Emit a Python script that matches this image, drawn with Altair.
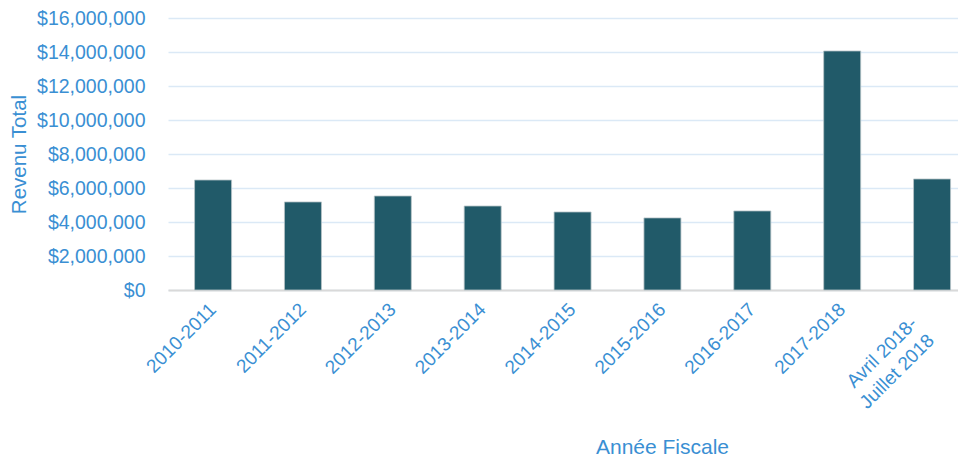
import altair as alt
import pandas as pd

years = ["2010-2011", "2011-2012", "2012-2013", "2013-2014", "2014-2015",
         "2015-2016", "2016-2017", "2017-2018", "Avril 2018-Juillet 2018"]
revenue = [6470000, 5180000, 5530000, 4940000, 4590000,
           4240000, 4650000, 14060000, 6530000]

df = pd.DataFrame({"annee": years, "revenu": revenue})

BLUE = "#3a8fd3"
FONT = "Liberation Sans"
LAST = "datum.value == 'Avril 2018-Juillet 2018'"

chart = alt.Chart(df).mark_bar(
    color="#215a69", stroke="#b8c4c8", strokeWidth=0.8, size=37
).encode(
    x=alt.X("annee:N", sort=years,
            scale=alt.Scale(paddingInner=0.59, paddingOuter=0.19, align=0.78),
            axis=alt.Axis(title="Année Fiscale", labelAngle=-45,
                          labelAlign="right", labelBaseline="middle",
                          labelExpr="datum.label == 'Avril 2018-Juillet 2018' ? ['Avril 2018-', 'Juillet 2018'] : datum.label",
                          labelFontSize=19, labelColor=BLUE, labelFont=FONT,
                          labelPadding={"condition": {"test": LAST, "value": 30}, "value": 16},
                          labelOffset={"condition": {"test": LAST, "value": -18}, "value": 0},
                          labelLineHeight=24,
                          ticks=False, domainColor="#d9d9d9", domainWidth=2,
                          titleFontSize=21, titleFontWeight="normal", titleColor=BLUE,
                          titleFont=FONT, titleX=494, titleY=163,
                          titleAlign="center", titleBaseline="alphabetic")),
    y=alt.Y("revenu:Q",
            scale=alt.Scale(domain=[0, 16000000], nice=False),
            axis=alt.Axis(title="Revenu Total", format="$,.0f",
                          values=list(range(0, 16000001, 2000000)),
                          labelFontSize=19.5, labelColor=BLUE, labelFont=FONT,
                          labelPadding=23, ticks=False, domain=False,
                          gridColor="#dbe9f6", gridWidth=1.5,
                          titleFontSize=20.5, titleFontWeight="normal", titleColor=BLUE,
                          titleFont=FONT, titleX=-149, titleY=136, titleAngle=-90,
                          titleAlign="center", titleBaseline="middle")),
).properties(
    width=790, height=272,
    autosize=alt.AutoSizeParams(type="none"),
    padding={"left": 160, "top": 10, "right": 0, "bottom": 166},
).configure_view(stroke=None)

chart.save("out.html", embed_options={"renderer": "svg", "actions": False})
